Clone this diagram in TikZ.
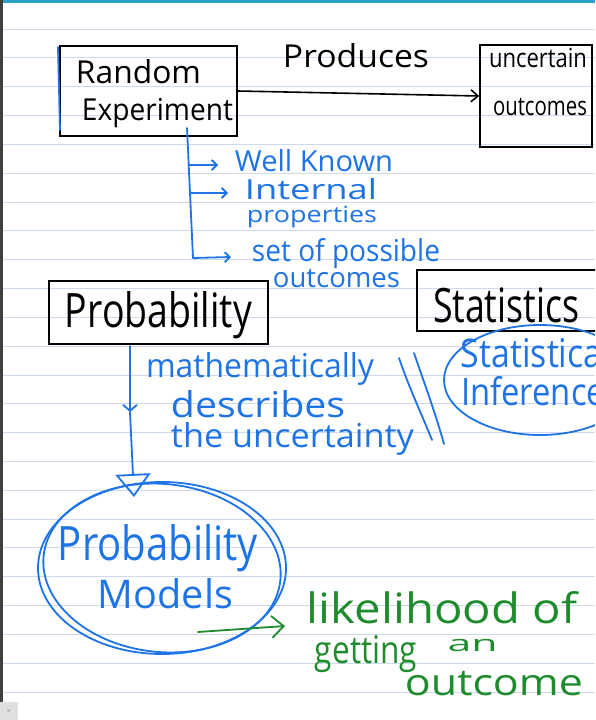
\documentclass[tikz,border=0pt]{standalone}
\usepackage{fontspec}
\setmainfont{Open Sans}
\usetikzlibrary{arrows.meta,shapes.geometric,calc}
\definecolor{pen}{RGB}{30,115,230}
\definecolor{gpen}{RGB}{30,140,45}
\definecolor{ruleline}{RGB}{205,218,238}
\definecolor{topbar}{RGB}{40,160,195}
% width, ascender height, text
\newcommand{\hw}[3]{\resizebox{#1pt}{#2pt}{\vphantom{Ahdl}#3}}
\tikzset{
  blkbox/.style={draw=black, line width=1.6pt, rectangle, inner sep=0pt},
  penline/.style={draw=pen, line width=1.8pt, line cap=round, line join=round},
  gline/.style={draw=gpen, line width=1.8pt, line cap=round, line join=round},
  blktxt/.style={text=black, inner sep=0pt, anchor=base},
  bluetxt/.style={text=pen, inner sep=0pt, anchor=base},
  greentxt/.style={text=gpen, inner sep=0pt, anchor=base},
}
\begin{document}
\begin{tikzpicture}[x=1pt,y=-1pt]
\useasboundingbox (0,0) rectangle (595,720);
\clip (0,0) rectangle (595,720);
\fill[white] (0,0) rectangle (595,720);
\foreach \k in {0,...,23} \draw[ruleline, line width=0.9pt] (0,{29+28.83*\k}) -- (595,{29+28.83*\k});
\fill[topbar] (0,0) rectangle (595,3);
\fill[black!75] (0,0) rectangle (3,720);

% top row
\node[blkbox, minimum width=177pt, minimum height=90pt] (re) at (148.5,91) {};
\node[blktxt] (reA) at (138.5,83) {\hw{125}{24}{Random}};
\node[blktxt] (reB) at (157.5,120) {\hw{151}{23}{Experiment}};
\draw[penline] (58,47) -- (60,130);
\node[blkbox, minimum width=112pt, minimum height=102pt] (uo) at (536,96) {};
\node[blktxt] (uoA) at (538,67) {\hw{98}{20}{uncertain}};
\node[blktxt] (uoB) at (540,115) {\hw{94}{20}{outcomes}};
\node[blktxt] (prod) at (356,67) {\hw{146}{24}{Produces}};
\draw[black, line width=1.6pt, -{Straight Barb[length=7pt,width=12pt]}] (re.east) -- (uo.west);

% bracket
\coordinate (b0) at (187,128);
\coordinate (b1) at (188.5,165);
\coordinate (b2) at (189.5,193);
\coordinate (b3) at (193,258);
\coordinate (e1) at (218,165);
\coordinate (e2) at (228,193);
\coordinate (e3) at (231,257);
\draw[penline] (b0) -- (b3);
\draw[penline, -{Straight Barb[length=5pt,width=10pt]}] (b1) -- (e1);
\draw[penline, -{Straight Barb[length=5pt,width=10pt]}] (b2) -- (e2);
\draw[penline, -{Straight Barb[length=5pt,width=10pt]}] (b3) -- (e3);
\node[bluetxt] (wk) at (314,171) {\hw{158}{22}{Well Known}};
\node[bluetxt] (ip1) at (311,199) {\hw{132}{21}{Internal}};
\node[bluetxt] (ip2) at (312,222) {\hw{130}{17}{properties}};
\node[bluetxt] (sp1) at (346,261) {\hw{188}{23}{set of possible}};
\node[bluetxt] (sp2) at (336.5,287) {\hw{127}{21}{outcomes}};

% middle row
\node[blkbox, minimum width=219pt, minimum height=63pt] (pb) at (158.5,312.5) {};
\node[blktxt] (pbt) at (158.5,327) {\hw{187}{36}{Probability}};
\node[blkbox, minimum width=193pt, minimum height=61pt] (st) at (513.5,300.5) {};
\node[blktxt] (stt) at (506,322) {\hw{146}{36}{Statistics}};

\node[bluetxt] (m1) at (260,377) {\hw{228}{25}{mathematically}};
\node[bluetxt] (m2) at (258,417) {\hw{174}{27}{describes}};
\node[bluetxt] (m3) at (292.5,447) {\hw{243}{25}{the uncertainty}};
\draw[penline] (399,358) .. controls (410,390) and (422,415) .. (432,440);
\draw[penline] (414,353) .. controls (425,385) and (436,415) .. (444,444);

\node[draw=pen, line width=1.8pt, ellipse, minimum width=192pt, minimum height=110pt] (si) at (540,380) {};
\node[bluetxt] (si1) at (536,367) {\hw{150}{30}{Statistical}};
\node[bluetxt] (si2) at (533,405) {\hw{144}{29}{Inference}};

% probability models
\node[draw=pen, line width=1.8pt, ellipse, minimum width=248pt, minimum height=172pt] (pm) at (162,568) {};
\draw[penline] (pm.center) ellipse [x radius=119, y radius=84, rotate=-6];
\node[bluetxt] (pm1) at (158,560) {\hw{200}{36}{Probability}};
\node[bluetxt] (pm2) at (165.5,608) {\hw{135}{30}{Models}};

\coordinate (d0) at (130,346);
\coordinate (d1) at (130,412);
\coordinate (d2) at (134,497);
\draw[penline, -{Straight Barb[length=6pt,width=14pt]}] (d0) -- (d1);
\draw[penline, -{Triangle[open,length=23pt,width=35pt]}] (d1) -- (d2);

% likelihood
\coordinate (g0) at (198,632);
\coordinate (g1) at (285,626);
\draw[gline, -{Straight Barb[length=12pt,width=22pt]}] (g0) -- (g1);
\node[greentxt] (l1) at (442,623) {\hw{270}{32}{likelihood of}};
\node[greentxt] (l2) at (366,663) {\hw{102}{29}{getting}};
\node[greentxt] (l3) at (472.5,651) {\hw{50}{17}{an}};
\node[greentxt] (l4) at (494,695) {\hw{178}{28}{outcome}};

\fill[black!12] (0,702) rectangle (18,720);
\node[text=black!50, inner sep=0pt] (nav) at (9,711) {\scriptsize >};
\end{tikzpicture}
\end{document}
